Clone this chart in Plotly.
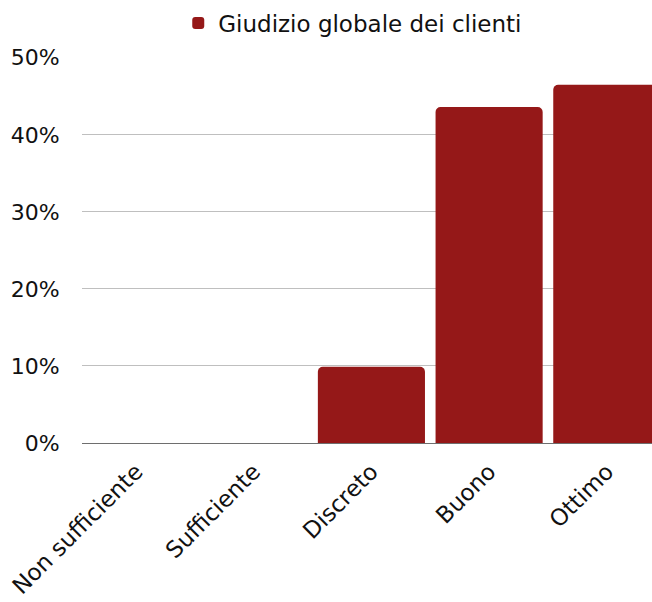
import plotly.graph_objects as go

categorie = ["Non sufficiente", "Sufficiente", "Discreto", "Buono", "Ottimo"]
percentuali = [0.0, 0.0, 9.9, 43.6, 46.5]
serie_nome = "Giudizio globale dei clienti"
tick_valori = [0, 10, 20, 30, 40, 50]
tick_etichette = ["0%", "10%", "20%", "30%", "40%", "50%"]

FONT = "DejaVu Sans, sans-serif"

fig = go.Figure()
fig.add_trace(go.Bar(
    x=list(range(len(categorie))),
    y=percentuali,
    name=serie_nome,
    marker=dict(color="#951818", cornerradius=5, line=dict(width=0)),
    showlegend=True,
))

fig.update_layout(
    width=652,
    height=602,
    margin=dict(l=82, r=0, t=57, b=159),
    paper_bgcolor="white",
    plot_bgcolor="white",
    bargap=0.09,
    font=dict(family=FONT, size=22, color="#111111"),
    legend=dict(
        orientation="h",
        x=0.475, xanchor="center",
        y=1.088, yanchor="middle",
        font=dict(size=23),
        itemwidth=30,
    ),
    xaxis=dict(
        tickmode="array",
        tickvals=list(range(len(categorie))),
        ticktext=categorie,
        tickangle=-45,
        range=[-0.459, 4.384],
        showgrid=False,
        showline=False,
        ticks="outside",
        ticklen=5,
        tickcolor="rgba(0,0,0,0)",
        tickfont=dict(size=23),
        ticklabeloverflow="allow",
        zeroline=False,
    ),
    yaxis=dict(
        range=[0, 50.1],
        tickmode="array",
        tickvals=tick_valori,
        ticktext=tick_etichette,
        showgrid=True,
        gridcolor="#bfbfbf",
        gridwidth=1,
        zeroline=True,
        zerolinecolor="#6e6e6e",
        zerolinewidth=1,
        ticks="outside",
        ticklen=17,
        tickcolor="rgba(0,0,0,0)",
        tickfont=dict(size=22),
        fixedrange=True,
    ),
)

# niente margine della pagina: la figura occupa tutta la finestra
fig.write_html(
    "out.html",
    config={"displayModeBar": False},
    post_script="document.body.style.margin='0';document.body.style.overflow='hidden';",
)
